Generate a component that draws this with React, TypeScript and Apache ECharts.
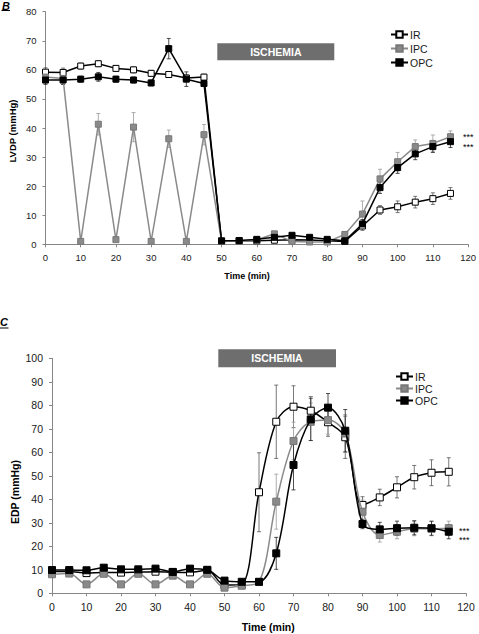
import React, { useEffect, useRef } from "react";
import * as echarts from "echarts";

const times = [0, 5, 10, 15, 20, 25, 30, 35, 40, 45, 50, 55, 60, 65, 70, 75, 80, 85, 90, 95, 100, 105, 110, 115];
const seriesNames = ["IR", "IPC", "OPC"];

// Panel B: LVDP (mmHg)
const lvdpIR = [59.2, 59.1, 61.3, 62.1, 60.5, 60, 58.8, 58.4, 57.2, 57.5, 1, 1.2, 1.2, 1.4, 1.6, 1.5, 1.2, 1, 6.3, 11.8, 12.9, 14.5, 15.7, 17.5];
const lvdpIRErr = [1.5, 1.5, 1, 1, 1, 1, 1, 1, 1, 1, 0.3, 0.3, 0.3, 0.5, 0.5, 0.5, 0.3, 0.3, 1.5, 1.5, 2, 2, 2, 2];
const lvdpIPC = [57.5, 57, 1, 41.3, 1.6, 40.3, 1, 36.3, 1, 37.7, 1, 1.2, 1.5, 3.6, 1, 0.8, 0.8, 3.4, 10.4, 22.5, 28.4, 33.6, 34.7, 37];
const lvdpIPCErr = [2, 2, 0.5, 3.7, 0.5, 5, 0.5, 3, 0.5, 3.5, 0.3, 0.3, 0.3, 0.8, 0.5, 0.3, 0.3, 1, 4.5, 3.3, 3.2, 2.3, 2.9, 2];
const lvdpOPC = [56.5, 56.5, 56.8, 57.6, 56.8, 56.5, 55.5, 67.3, 56.8, 55.3, 1.2, 1.3, 1.7, 2.4, 3.1, 2.4, 1.7, 1.2, 7, 19.5, 26.4, 31.1, 33.6, 35.3];
const lvdpOPCErr = [1.5, 1.5, 1, 1.5, 1, 1, 1, 3.5, 2.5, 1, 0.3, 0.3, 0.3, 0.5, 0.5, 0.5, 0.3, 0.3, 1.5, 2, 2, 2, 2, 2];

// Panel C: EDP (mmHg)
const edpIR = [9.3, 9.3, 8.6, 8.8, 8.8, 9, 9.2, 9, 8.9, 9.8, 3.5, 3.8, 43, 73, 79.4, 77.7, 72.8, 66.4, 37.6, 40.8, 45.1, 49.4, 51.3, 51.7];
const edpIRErr = [1, 1, 1, 1, 1, 1, 1, 1, 1, 1, 1, 1, 16.8, 15.6, 8.9, 6, 6, 9, 3.5, 3.5, 4.5, 5, 5.5, 6];
const edpIPC = [8.1, 8.4, 3.8, 8.3, 3.8, 8.3, 3.8, 7.5, 3.8, 8.3, 2.4, 3.2, 4.8, 39, 64.8, 73, 73.7, 68, 34.7, 24.8, 26.2, 27.5, 27.5, 27.7];
const edpIPCErr = [1, 1, 1, 1, 1, 1, 1, 1, 1, 1, 1, 1, 1.5, 11.7, 8, 8, 6, 8, 5, 3, 3, 3, 3, 3];
const edpOPC = [9.9, 9.9, 9.8, 10.9, 10.2, 10.2, 10.5, 9.1, 10.5, 10, 5.4, 4.9, 4.9, 17, 54.6, 74, 79, 69.2, 29.5, 27.2, 27.7, 27.9, 27.7, 26.2];
const edpOPCErr = [1, 1, 1, 1, 1, 1, 1, 1, 1, 1, 1, 1, 1, 6.8, 10.6, 9, 6, 9, 2, 3, 3, 3, 3, 3];

const xTickInterval = 10;
const lvdpMax = 80;
const edpMax = 100;
const timeMax = 120;

const FONT = "'Liberation Sans', Arial, sans-serif";

const styles = [
  { fill: "#ffffff", border: "#000000", line: "#000000", err: "#555555" },
  { fill: "#8a8a8a", border: "#777777", line: "#8a8a8a", err: "#999999" },
  { fill: "#000000", border: "#000000", line: "#000000", err: "#222222" },
];

function errRender(color: string, cap: number) {
  return (params: any, api: any) => {
    const x = api.value(0);
    const lo = api.value(1);
    const hi = api.value(2);
    const p1 = api.coord([x, lo]);
    const p2 = api.coord([x, hi]);
    const st = { stroke: color, lineWidth: 0.8 };
    return {
      type: "group",
      children: [
        { type: "line", shape: { x1: p1[0], y1: p1[1], x2: p2[0], y2: p2[1] }, style: st },
        { type: "line", shape: { x1: p1[0] - cap, y1: p1[1], x2: p1[0] + cap, y2: p1[1] }, style: st },
        { type: "line", shape: { x1: p2[0] - cap, y1: p2[1], x2: p2[0] + cap, y2: p2[1] }, style: st },
      ],
    };
  };
}

export default function App() {
  const ref = useRef<HTMLDivElement>(null);
  useEffect(() => {
    if (!ref.current) return;
    const chart = echarts.init(ref.current, undefined, { renderer: "svg" });

    const panels = [
      { vals: [lvdpIR, lvdpIPC, lvdpOPC], errs: [lvdpIRErr, lvdpIPCErr, lvdpOPCErr], smooth: false, size: 6 },
      { vals: [edpIR, edpIPC, edpOPC], errs: [edpIRErr, edpIPCErr, edpOPCErr], smooth: 0.33, size: 7 },
    ];

    const series: any[] = [];
    panels.forEach((p, pi) => {
      p.vals.forEach((v, si) => {
        const e = p.errs[si];
        series.push({
          type: "custom",
          name: seriesNames[si] + " err " + pi,
          xAxisIndex: pi,
          yAxisIndex: pi,
          z: 1,
          renderItem: errRender(styles[si].err, 2),
          encode: { x: 0, y: [1, 2] },
          data: times.map((t, i) => [t, v[i] - e[i], v[i] + e[i]]),
          silent: true,
        });
      });
    });
    panels.forEach((p, pi) => {
      p.vals.forEach((v, si) => {
        series.push({
          type: "line",
          name: seriesNames[si],
          xAxisIndex: pi,
          yAxisIndex: pi,
          z: 2 + si,
          smooth: p.smooth,
          symbol: "rect",
          symbolSize: p.size,
          showAllSymbol: true,
          data: times.map((t, i) => [t, v[i]]),
          itemStyle: { color: styles[si].fill, borderColor: styles[si].border, borderWidth: 1 },
          lineStyle: { color: styles[si].line, width: 1.5 },
        });
      });
    });

    const axisCommon = (fontSize: number) => ({
      axisLine: { show: true, lineStyle: { color: "#868686", width: 1 } },
      axisTick: { show: true, inside: false, length: 3, lineStyle: { color: "#868686" } },
      splitLine: { show: false },
      axisLabel: { color: "#1a1a1a", fontSize, fontFamily: FONT },
    });

    const stars = (x: number, y: number) => ({
      type: "text",
      x,
      y: y + 2,
      style: { text: "***", font: `9px ${FONT}`, fill: "#000", verticalAlign: "middle" },
    });

    const option: any = {
      animation: false,
      backgroundColor: "#ffffff",
      grid: [
        { left: 45.5, top: 11.7, width: 424.5, height: 232.6, containLabel: false },
        { left: 52, top: 358.3, width: 414, height: 235, containLabel: false },
      ],
      xAxis: [
        { type: "value", gridIndex: 0, min: 0, max: timeMax, interval: xTickInterval, ...axisCommon(9.5), axisLabel: { ...axisCommon(9.5).axisLabel, margin: 8 } },
        { type: "value", gridIndex: 1, min: 0, max: timeMax, interval: xTickInterval, ...axisCommon(10.5), axisLabel: { ...axisCommon(10.5).axisLabel, margin: 8 } },
      ],
      yAxis: [
        { type: "value", gridIndex: 0, min: 0, max: lvdpMax, interval: 10, ...axisCommon(9.5), axisLabel: { ...axisCommon(9.5).axisLabel, margin: 9 } },
        { type: "value", gridIndex: 1, min: 0, max: edpMax, interval: 10, ...axisCommon(10.5), axisLabel: { ...axisCommon(10.5).axisLabel, margin: 9 } },
      ],
      legend: [
        {
          data: seriesNames,
          orient: "vertical",
          left: 385,
          top: 24,
          itemWidth: 17,
          itemHeight: 8,
          itemGap: 3,
          textStyle: { fontSize: 10.5, fontFamily: FONT, color: "#1a1a1a", padding: [0, 0, 0, -3] },
        },
        {
          data: seriesNames,
          orient: "vertical",
          left: 390,
          top: 366,
          itemWidth: 17,
          itemHeight: 8,
          itemGap: 1,
          textStyle: { fontSize: 10.5, fontFamily: FONT, color: "#1a1a1a", padding: [0, 0, 0, -3] },
        },
      ],
      graphic: [
        { type: "text", x: 2, y: 0, style: { text: "B", font: `italic bold 11px ${FONT}`, fill: "#000" } },
        { type: "line", shape: { x1: 1.5, y1: 10.5, x2: 10, y2: 10.5 }, style: { stroke: "#000", lineWidth: 1 } },
        { type: "text", x: 0, y: 316, style: { text: "C", font: `italic bold 11px ${FONT}`, fill: "#000" } },
        { type: "line", shape: { x1: 0, y1: 328, x2: 8.5, y2: 328 }, style: { stroke: "#000", lineWidth: 1 } },
        { type: "rect", shape: { x: 217.3, y: 43.3, width: 117, height: 17 }, style: { fill: "#6e6e6e" } },
        { type: "text", x: 275.8, y: 51.8, style: { text: "ISCHEMIA", font: `bold 10.5px ${FONT}`, fill: "#fff", align: "center", verticalAlign: "middle" } },
        { type: "rect", shape: { x: 218.3, y: 349.3, width: 117.7, height: 18 }, style: { fill: "#6e6e6e" } },
        { type: "text", x: 277, y: 358.3, style: { text: "ISCHEMIA", font: `bold 10.5px ${FONT}`, fill: "#fff", align: "center", verticalAlign: "middle" } },
        stars(463, 134.6),
        stars(463, 144.6),
        stars(459, 528.6),
        stars(459, 538),
        { type: "text", x: 12, y: 131, rotation: Math.PI / 2, style: { text: "LVDP (mmHg)", font: `bold 9.5px ${FONT}`, fill: "#000", align: "center", verticalAlign: "middle" } },
        { type: "text", x: 14.5, y: 492, rotation: Math.PI / 2, style: { text: "EDP (mmHg)", font: `bold 10.5px ${FONT}`, fill: "#000", align: "center", verticalAlign: "middle" } },
        { type: "text", x: 247, y: 275.5, style: { text: "Time (min)", font: `bold 9px ${FONT}`, fill: "#000", align: "center", verticalAlign: "middle" } },
        { type: "text", x: 268.3, y: 627.3, style: { text: "Time (min)", font: `bold 10.5px ${FONT}`, fill: "#000", align: "center", verticalAlign: "middle" } },
      ],
      series,
    };
    chart.setOption(option);
    return () => chart.dispose();
  }, []);

  return <div ref={ref} style={{ position: "absolute", left: 0, top: 0, width: 479, height: 634 }} />;
}
